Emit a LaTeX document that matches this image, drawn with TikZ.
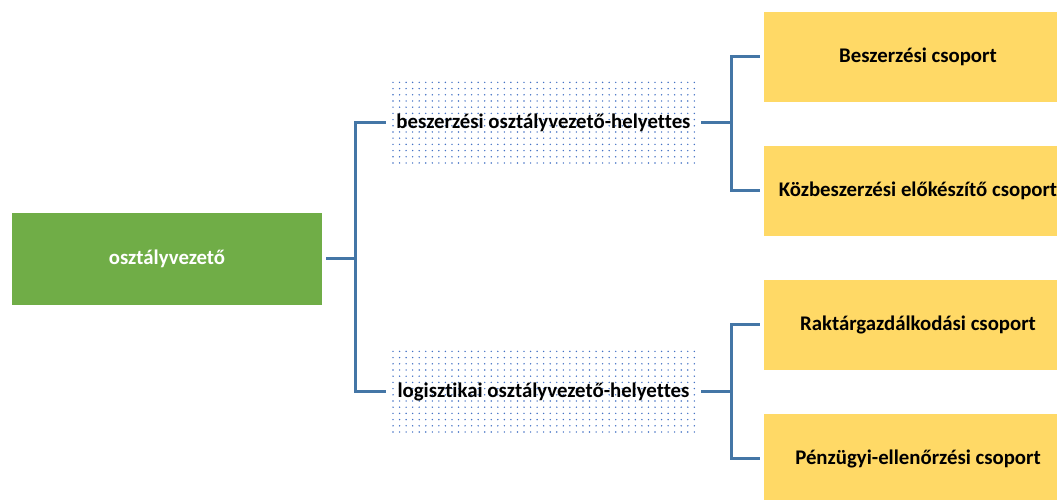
\documentclass[tikz,border=0pt]{standalone}
\usepackage{fontspec}
\setmainfont[Ligatures=NoCommon]{Carlito}
\definecolor{vezgreen}{RGB}{112,173,71}
\definecolor{csopyellow}{RGB}{255,217,102}
\definecolor{connblue}{RGB}{68,118,166}
\definecolor{dotblue}{RGB}{68,114,196}
\tikzset{
  vezeto/.style={fill=vezgreen, text=white, minimum width=310pt, minimum height=92pt, inner sep=0pt, font=\bfseries\fontsize{20.8}{24}\selectfont},
  helyettes/.style={minimum width=307pt, minimum height=88pt, inner sep=0pt, font=\bfseries\fontsize{20.8}{24}\selectfont},
  csoport/.style={fill=csopyellow, minimum width=308pt, minimum height=90pt, inner sep=0pt, font=\bfseries\fontsize{20.8}{24}\selectfont},
  conn/.style={draw=connblue, line width=3pt, shorten <=4pt, shorten >=4pt}
}
\begin{document}
\begin{tikzpicture}[x=1pt,y=1pt]
  \useasboundingbox (0,0) rectangle (1057,500);
  \clip (0,0) rectangle (1057,500);
  \foreach \by in {334,65}{
    \foreach \r in {0,...,13}{
      \foreach \c in {0,...,46}{
        \fill[dotblue] ({393+6.55*\c},{\by+3+6.2*\r}) circle (0.8);
      }
    }
  }
  \node[vezeto] (vez) at (167,241) {osztályvezető};
  \node[helyettes] (besz) at (543.5,377) {beszerzési osztályvezető-helyettes};
  \node[helyettes] (log) at (543.5,108) {logisztikai osztályvezető-helyettes};
  \node[csoport] (cs1) at (918,443) {Beszerzési csoport};
  \node[csoport] (cs2) at (918,309) {Közbeszerzési előkészítő csoport};
  \node[csoport] (cs3) at (918,175) {Raktárgazdálkodási csoport};
  \node[csoport] (cs4) at (918,41) {Pénzügyi-ellenőrzési csoport};
  \draw[conn] (vez.east) -- ++(33,0) |- (besz.west);
  \draw[conn] (vez.east) -- ++(33,0) |- (log.west);
  \draw[conn] (besz.east) -- ++(34,0) |- (cs1.west);
  \draw[conn] (besz.east) -- ++(34,0) |- (cs2.west);
  \draw[conn] (log.east) -- ++(34,0) |- (cs3.west);
  \draw[conn] (log.east) -- ++(34,0) |- (cs4.west);
\end{tikzpicture}
\end{document}
